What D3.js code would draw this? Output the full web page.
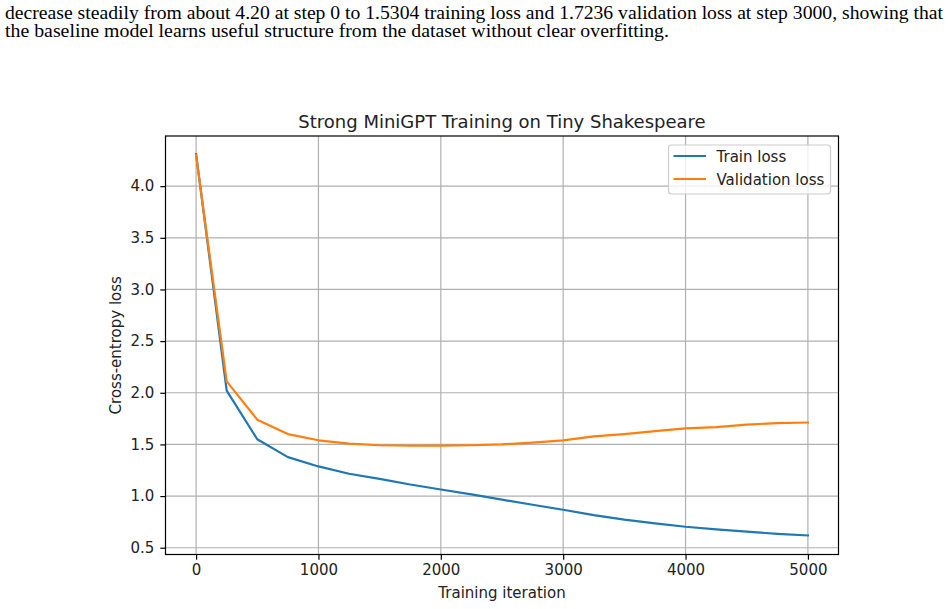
<!DOCTYPE html>
<html>
<head>
<meta charset="utf-8">
<script src="https://cdn.jsdelivr.net/npm/d3@7"></script>
<style>
  body { margin: 0; background: #fff; }
  svg text { fill: #222; }
</style>
</head>
<body>
<div id="draw"></div>
<script>
// values
var steps = [0, 250, 500, 750, 1000, 1250, 1500, 1750, 2000, 2250, 2500,
             2750, 3000, 3250, 3500, 3750, 4000, 4250, 4500, 4750, 5000];
var trainLoss = [4.31, 2.02, 1.55, 1.377, 1.287, 1.216, 1.167, 1.112, 1.064, 1.016, 0.965,
                 0.916, 0.868, 0.815, 0.772, 0.736, 0.703, 0.678, 0.655, 0.635, 0.619];
var valLoss = [4.30, 2.11, 1.74, 1.60, 1.54, 1.507, 1.492, 1.487, 1.488, 1.492, 1.500,
               1.517, 1.540, 1.578, 1.600, 1.628, 1.655, 1.668, 1.692, 1.706, 1.712];
var xTicks = [0, 1000, 2000, 3000, 4000, 5000];
var yTicks = [0.5, 1.0, 1.5, 2.0, 2.5, 3.0, 3.5, 4.0];
var seriesNames = ["Train loss", "Validation loss"];
var seriesColors = ["#1f77b4", "#ff7f0e"];
var paragraph = [
	"decrease steadily from about 4.20 at step 0 to 1.5304 training loss and 1.7236 validation loss at step 3000, showing that",
	"the baseline model learns useful structure from the dataset without clear overfitting."
];

drawLossChart();

function drawLossChart() {
	var width = 948, height = 609;
	var pLeft = 165.5, pRight = 838.5, pTop = 136, pBottom = 554.5;
	var font = "'DejaVu Sans', sans-serif";

	var svg = d3.select("#draw").append("svg")
		.attr("width", width)
		.attr("height", height);

	// text above the chart
	svg.selectAll(".para")
		.data(paragraph)
		.enter()
		.append("text")
		.attr("class", "para")
		.attr("x", 5)
		.attr("y", function(d, i){ return 18.5 + i * 18.4; })
		.attr("textLength", function(d, i){ return i == 0 ? 938 : 664; })
		.attr("lengthAdjust", "spacingAndGlyphs")
		.style("font-family", "'Liberation Serif', 'Times New Roman', serif")
		.style("font-size", "18.5px")
		.style("fill", "#000")
		.text(function(d){ return d; });

	var x = d3.scaleLinear().domain([-250, 5250]).range([pLeft, pRight]);
	var y = d3.scaleLinear().domain([0.4345, 4.4855]).range([pBottom, pTop]);

	// grid
	svg.append("g")
		.selectAll("line")
		.data(xTicks)
		.enter()
		.append("line")
		.attr("x1", function(d){ return x(d); })
		.attr("x2", function(d){ return x(d); })
		.attr("y1", pTop)
		.attr("y2", pBottom)
		.attr("stroke", "#b0b0b0")
		.attr("stroke-width", 1.2);
	svg.append("g")
		.selectAll("line")
		.data(yTicks)
		.enter()
		.append("line")
		.attr("x1", pLeft)
		.attr("x2", pRight)
		.attr("y1", function(d){ return y(d); })
		.attr("y2", function(d){ return y(d); })
		.attr("stroke", "#b0b0b0")
		.attr("stroke-width", 1.2);

	// loss curves
	var line = d3.line()
		.x(function(d){ return x(d[0]); })
		.y(function(d){ return y(d[1]); });

	[trainLoss, valLoss].forEach(function(vals, k){
		svg.append("path")
			.datum(d3.zip(steps, vals))
			.attr("d", line)
			.attr("fill", "none")
			.attr("stroke", seriesColors[k])
			.attr("stroke-width", 2.2)
			.attr("stroke-linejoin", "round")
			.attr("stroke-linecap", "square");
	});

	// axes
	var xAxis = d3.axisBottom(x).tickValues(xTicks).tickSize(5.2).tickPadding(5)
		.tickFormat(d3.format("d"));
	var yAxis = d3.axisLeft(y).tickValues(yTicks).tickSize(5.2).tickPadding(6)
		.tickFormat(d3.format(".1f"));

	var gx = svg.append("g")
		.attr("transform", "translate(0," + pBottom + ")")
		.call(xAxis);
	var gy = svg.append("g")
		.attr("transform", "translate(" + pLeft + ",0)")
		.call(yAxis);
	[gx, gy].forEach(function(g){
		g.select(".domain").remove();
		g.selectAll(".tick line").attr("stroke", "#000").attr("stroke-width", 1.2);
		g.selectAll(".tick text")
			.style("font-family", font)
			.style("font-size", "15px")
			.attr("fill", "#222");
	});

	// frame
	svg.append("rect")
		.attr("x", pLeft)
		.attr("y", pTop)
		.attr("width", pRight - pLeft)
		.attr("height", pBottom - pTop)
		.attr("fill", "none")
		.attr("stroke", "#000")
		.attr("stroke-width", 1.2);

	// title and labels
	svg.append("text")
		.attr("x", (pLeft + pRight) / 2)
		.attr("y", 128)
		.attr("text-anchor", "middle")
		.style("font-family", font)
		.style("font-size", "18px")
		.text("Strong MiniGPT Training on Tiny Shakespeare");

	svg.append("text")
		.attr("x", (pLeft + pRight) / 2)
		.attr("y", 597.5)
		.attr("text-anchor", "middle")
		.style("font-family", font)
		.style("font-size", "15px")
		.text("Training iteration");

	svg.append("text")
		.attr("transform", "translate(120.5," + (pTop + pBottom) / 2 + ") rotate(-90)")
		.attr("text-anchor", "middle")
		.style("font-family", font)
		.style("font-size", "15px")
		.text("Cross-entropy loss");

	// legend
	var legend = svg.append("g");
	legend.append("rect")
		.attr("x", 668.5)
		.attr("y", 145)
		.attr("width", 162)
		.attr("height", 49)
		.attr("rx", 3)
		.attr("fill", "#fff")
		.attr("fill-opacity", 0.8)
		.attr("stroke", "#cccccc")
		.attr("stroke-width", 1.2);

	var items = legend.selectAll(".item")
		.data(seriesNames)
		.enter()
		.append("g")
		.attr("transform", function(d, i){ return "translate(0," + (156 + i * 23) + ")"; });
	items.append("line")
		.attr("x1", 673.5)
		.attr("x2", 706)
		.attr("stroke", function(d, i){ return seriesColors[i]; })
		.attr("stroke-width", 2.2);
	items.append("text")
		.attr("x", 716.5)
		.attr("y", 5.5)
		.style("font-family", font)
		.style("font-size", "15px")
		.text(function(d){ return d; });
}
</script>
</body>
</html>
